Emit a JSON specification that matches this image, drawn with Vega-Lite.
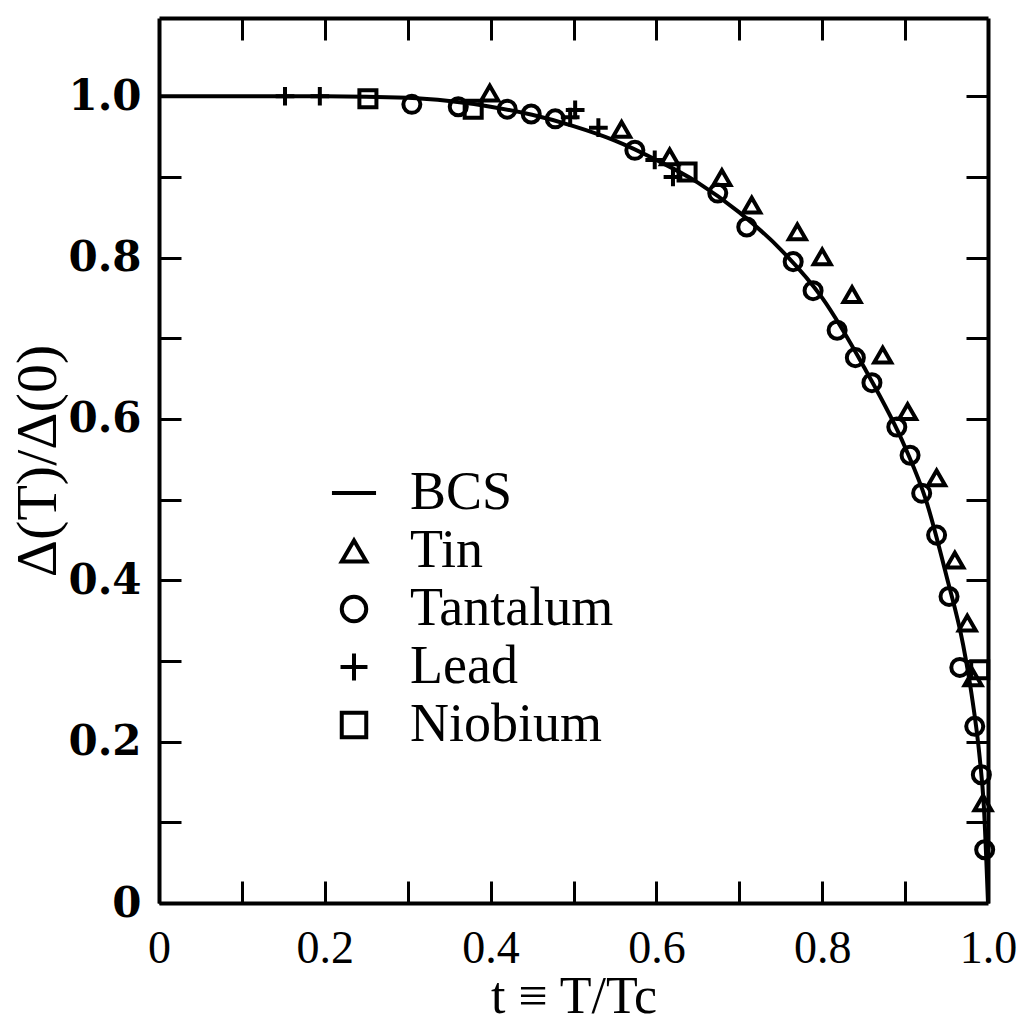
{
  "$schema": "https://vega.github.io/schema/vega-lite/v6.json",
  "width": 829,
  "height": 885,
  "autosize": {"type": "none"},
  "padding": {"left": 159, "top": 18, "right": 29, "bottom": 121},
  "background": "white",
  "config": {"view": {"stroke": null}},
  "datasets": {
    "bcs": [
      {"series": "BCS", "t": 0.0, "v": 1.0},
      {"series": "BCS", "t": 0.1, "v": 1.0},
      {"series": "BCS", "t": 0.2, "v": 1.0},
      {"series": "BCS", "t": 0.3, "v": 0.998},
      {"series": "BCS", "t": 0.35, "v": 0.994},
      {"series": "BCS", "t": 0.4, "v": 0.987},
      {"series": "BCS", "t": 0.45, "v": 0.977},
      {"series": "BCS", "t": 0.5, "v": 0.963},
      {"series": "BCS", "t": 0.55, "v": 0.945},
      {"series": "BCS", "t": 0.6, "v": 0.921},
      {"series": "BCS", "t": 0.65, "v": 0.893},
      {"series": "BCS", "t": 0.7, "v": 0.856},
      {"series": "BCS", "t": 0.75, "v": 0.81},
      {"series": "BCS", "t": 0.8, "v": 0.75},
      {"series": "BCS", "t": 0.85, "v": 0.665},
      {"series": "BCS", "t": 0.9, "v": 0.565},
      {"series": "BCS", "t": 0.925, "v": 0.5},
      {"series": "BCS", "t": 0.95, "v": 0.405},
      {"series": "BCS", "t": 0.97, "v": 0.32},
      {"series": "BCS", "t": 0.98, "v": 0.26},
      {"series": "BCS", "t": 0.99, "v": 0.18},
      {"series": "BCS", "t": 0.995, "v": 0.12},
      {"series": "BCS", "t": 1.0, "v": 0.0}
    ],
    "exp": [
      {"series": "Niobium", "t": 0.252, "v": 0.997},
      {"series": "Niobium", "t": 0.379, "v": 0.984},
      {"series": "Niobium", "t": 0.637, "v": 0.906},
      {"series": "Niobium", "t": 0.99, "v": 0.289},
      {"series": "Tantalum", "t": 0.305, "v": 0.99},
      {"series": "Tantalum", "t": 0.361, "v": 0.987},
      {"series": "Tantalum", "t": 0.42, "v": 0.984},
      {"series": "Tantalum", "t": 0.449, "v": 0.978},
      {"series": "Tantalum", "t": 0.478, "v": 0.972},
      {"series": "Tantalum", "t": 0.574, "v": 0.933},
      {"series": "Tantalum", "t": 0.674, "v": 0.88},
      {"series": "Tantalum", "t": 0.709, "v": 0.838},
      {"series": "Tantalum", "t": 0.765, "v": 0.795},
      {"series": "Tantalum", "t": 0.789, "v": 0.759},
      {"series": "Tantalum", "t": 0.818, "v": 0.71},
      {"series": "Tantalum", "t": 0.84, "v": 0.676},
      {"series": "Tantalum", "t": 0.86, "v": 0.645},
      {"series": "Tantalum", "t": 0.89, "v": 0.59},
      {"series": "Tantalum", "t": 0.906, "v": 0.555},
      {"series": "Tantalum", "t": 0.92, "v": 0.508},
      {"series": "Tantalum", "t": 0.938, "v": 0.456},
      {"series": "Tantalum", "t": 0.953, "v": 0.38},
      {"series": "Tantalum", "t": 0.966, "v": 0.292},
      {"series": "Tantalum", "t": 0.984, "v": 0.219},
      {"series": "Tantalum", "t": 0.992, "v": 0.159},
      {"series": "Tantalum", "t": 0.996, "v": 0.066},
      {"series": "Lead", "t": 0.152, "v": 1.0},
      {"series": "Lead", "t": 0.194, "v": 1.0},
      {"series": "Lead", "t": 0.496, "v": 0.974},
      {"series": "Lead", "t": 0.502, "v": 0.983},
      {"series": "Lead", "t": 0.53, "v": 0.961},
      {"series": "Lead", "t": 0.598, "v": 0.921},
      {"series": "Lead", "t": 0.62, "v": 0.9},
      {"series": "Tin", "t": 0.399, "v": 1.004},
      {"series": "Tin", "t": 0.558, "v": 0.959},
      {"series": "Tin", "t": 0.616, "v": 0.925},
      {"series": "Tin", "t": 0.679, "v": 0.899},
      {"series": "Tin", "t": 0.715, "v": 0.865},
      {"series": "Tin", "t": 0.77, "v": 0.832},
      {"series": "Tin", "t": 0.8, "v": 0.801},
      {"series": "Tin", "t": 0.836, "v": 0.754},
      {"series": "Tin", "t": 0.873, "v": 0.679},
      {"series": "Tin", "t": 0.903, "v": 0.609},
      {"series": "Tin", "t": 0.938, "v": 0.527},
      {"series": "Tin", "t": 0.96, "v": 0.425},
      {"series": "Tin", "t": 0.975, "v": 0.347},
      {"series": "Tin", "t": 0.982, "v": 0.279},
      {"series": "Tin", "t": 0.994, "v": 0.124}
    ]
  },
  "layer": [
    {
      "data": {"name": "bcs"},
      "mark": {"type": "line", "color": "black", "strokeWidth": 4, "interpolate": "monotone"},
      "encoding": {
        "x": {
          "field": "t", "type": "quantitative",
          "scale": {"domain": [0, 1], "nice": false, "zero": false},
          "axis": {
            "orient": "bottom",
            "values": [0, 0.1, 0.2, 0.3, 0.4, 0.5, 0.6, 0.7, 0.8, 0.9, 1.0],
            "labelExpr": "round(datum.value*10)%2==0 ? (datum.value==0 ? '0' : format(datum.value, '.1f')) : ''",
            "labelFlush": false, "labelOverlap": false,
            "tickSize": -22, "tickWidth": 3, "tickColor": "black",
            "domainColor": "black", "domainWidth": 4, "grid": false,
            "labelFont": "Liberation Serif", "labelFontSize": 46, "labelColor": "black", "labelPadding": 45,
            "title": "t ≡ T/Tc", "titleFont": "Liberation Serif", "titleFontSize": 52, "titleFontWeight": "normal",
            "titleColor": "black", "titlePadding": 0
          }
        },
        "y": {
          "field": "v", "type": "quantitative",
          "scale": {"domain": [0, 1.097], "nice": false, "zero": false},
          "axis": {
            "orient": "left",
            "values": [0, 0.1, 0.2, 0.3, 0.4, 0.5, 0.6, 0.7, 0.8, 0.9, 1.0],
            "labelExpr": "round(datum.value*10)%2==0 ? (datum.value==0 ? '0' : format(datum.value, '.1f')) : ''",
            "labelFlush": false, "labelOverlap": false,
            "tickSize": -22, "tickWidth": 3, "tickColor": "black",
            "domainColor": "black", "domainWidth": 4, "grid": false,
            "labelFont": "DejaVu Serif", "labelFontWeight": "bold", "labelFontSize": 42, "labelColor": "black", "labelPadding": 40,
            "title": "Δ(T)/Δ(0)", "titleFont": "Liberation Serif", "titleFontSize": 58, "titleFontWeight": "normal",
            "titleColor": "black", "titlePadding": 0
          }
        }
      }
    },
    {
      "data": {"name": "exp"},
      "mark": {"type": "point", "filled": false, "color": "black", "strokeWidth": 4, "size": 290, "opacity": 1},
      "encoding": {
        "x": {
          "field": "t", "type": "quantitative",
          "scale": {"domain": [0, 1], "nice": false, "zero": false},
          "axis": {
            "orient": "top",
            "values": [0.1, 0.2, 0.3, 0.4, 0.5, 0.6, 0.7, 0.8, 0.9],
            "labels": false, "title": null,
            "tickSize": -22, "tickWidth": 3, "tickColor": "black",
            "domainColor": "black", "domainWidth": 4, "grid": false
          }
        },
        "y": {
          "field": "v", "type": "quantitative",
          "scale": {"domain": [0, 1.097], "nice": false, "zero": false},
          "axis": {
            "orient": "right",
            "values": [0.1, 0.2, 0.3, 0.4, 0.5, 0.6, 0.7, 0.8, 0.9, 1.0],
            "labels": false, "title": null,
            "tickSize": -22, "tickWidth": 3, "tickColor": "black",
            "domainColor": "black", "domainWidth": 4, "grid": false
          }
        },
        "shape": {
          "field": "series", "type": "nominal",
          "scale": {
            "domain": ["BCS", "Tin", "Tantalum", "Lead", "Niobium"],
            "range": ["M-1.8,0L1.8,0", "triangle-up", "circle", "M-1.1,0L1.1,0M0,-1.1L0,1.1", "square"]
          },
          "legend": {
            "orient": "none", "legendX": 168, "legendY": 448, "title": null, "padding": 0,
            "labelFont": "Liberation Serif", "labelFontSize": 54, "labelColor": "black", "labelLimit": 500,
            "symbolSize": 600, "symbolStrokeWidth": 4, "symbolStrokeColor": "black",
            "rowPadding": 4, "labelOffset": 29
          }
        }
      }
    }
  ],
  "resolve": {"axis": {"x": "independent", "y": "independent"}}
}
